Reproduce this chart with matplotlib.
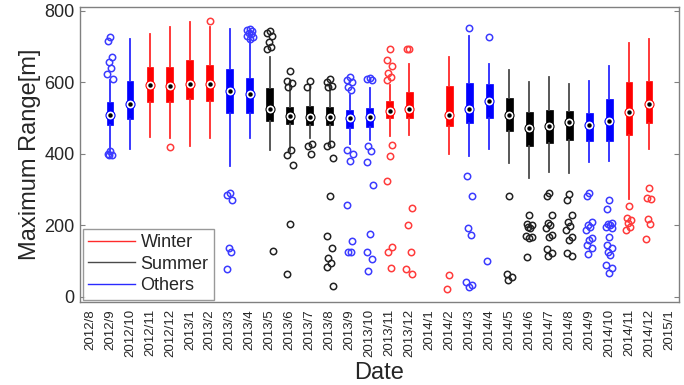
import matplotlib
matplotlib.use("Agg")
import matplotlib.pyplot as plt
from matplotlib.lines import Line2D

plt.rcParams['font.family'] = ['Liberation Sans', 'DejaVu Sans']

months = ["2012/8", "2012/9", "2012/10", "2012/11", "2012/12",
          "2013/1", "2013/2", "2013/3", "2013/4", "2013/5", "2013/6",
          "2013/7", "2013/8", "2013/9", "2013/10", "2013/11", "2013/12",
          "2014/1", "2014/2", "2014/3", "2014/4", "2014/5", "2014/6",
          "2014/7", "2014/8", "2014/9", "2014/10", "2014/11", "2014/12",
          "2015/1"]

# season group per month (None = no data)
season = [None, "O", "O", "W", "W", "W", "W", "O", "O", "S", "S",
          "S", "S", "O", "O", "W", "W", None, "W", "O", "O", "S", "S",
          "S", "S", "O", "O", "W", "W", None]

median = [None, 508, 538, 591, 588, 594, 594, 575, 566, 525, 505,
          503, 503, 499, 502, 520, 524, None, 508, 524, 546, 508, 473,
          477, 488, 480, 490, 516, 538, None]
q1 = [None, 480, 496, 545, 545, 552, 548, 515, 515, 492, 483,
      480, 480, 471, 474, 499, 501, None, 476, 485, 501, 464, 422,
      431, 438, 435, 436, 452, 485, None]
q3 = [None, 544, 603, 643, 643, 662, 648, 637, 611, 583, 531,
      533, 531, 522, 527, 548, 572, None, 590, 597, 594, 555, 516,
      522, 520, 513, 552, 600, 603, None]
whisker_lo = [None, 405, 413, 446, 445, 421, 443, 364, 443, 410, 408,
              443, 429, 426, 438, 448, 452, None, 399, 394, 413, 375, 331,
              348, 345, 376, 380, 272, 413, None]
whisker_hi = [None, 606, 720, 735, 753, 768, 755, 750, 737, 670, 603,
              592, 597, 564, 583, 592, 650, None, 671, 729, 651, 634, 599,
              613, 595, 602, 645, 710, 720, None]
outliers = [
    [],
    [725, 715, 670, 656, 639, 623, 609, 408, 398, 396, 397],
    [],
    [],
    [418],
    [],
    [771],
    [289, 283, 270, 135, 126, 77],
    [750, 746, 742, 738, 734, 730, 726, 722],
    [744, 737, 729, 713, 699, 692, 127],
    [632, 603, 597, 586, 410, 396, 368, 202, 63],
    [603, 587, 427, 420, 399],
    [609, 600, 589, 586, 427, 422, 387, 280, 170, 135, 107, 93, 84, 31],
    [614, 606, 601, 587, 578, 410, 399, 378, 255, 156, 126, 124],
    [611, 608, 606, 422, 406, 376, 312, 175, 124, 105, 72],
    [693, 662, 645, 625, 615, 606, 424, 394, 322, 140, 124, 81],
    [693, 693, 247, 200, 124, 77, 63],
    [],
    [59, 22],
    [751, 338, 282, 192, 171, 42, 33, 26],
    [727, 100],
    [282, 63, 56, 47],
    [229, 203, 200, 195, 193, 170, 168, 165, 112],
    [291, 282, 229, 207, 200, 193, 171, 168, 133, 123, 114],
    [287, 270, 229, 210, 198, 187, 168, 159, 121, 114],
    [289, 280, 210, 200, 196, 187, 163, 159, 143, 135, 119],
    [269, 244, 205, 202, 199, 196, 193, 166, 145, 135, 126, 117, 89, 79, 65],
    [254, 219, 213, 205, 196, 187],
    [303, 277, 272, 217, 203, 161],
    [],
]

legend_names = {"W": "Winter", "S": "Summer", "O": "Others"}
box_colors = {"W": "#ff0000", "S": "#000000", "O": "#0000ff"}
whisker_colors = {"W": "#ff2a2a", "S": "#4a4a4a", "O": "#2a2aff"}
flier_colors = {"W": "#ff3b3b", "S": "#222222", "O": "#3b3bff"}
jitter = [0.0, -0.12, 0.12, -0.06, 0.06, -0.15, 0.15]

fig = plt.figure(figsize=(6.84, 3.85), dpi=100)
ax = fig.add_axes([0.1170, 0.2148, 0.8757, 0.7678])

positions = list(range(1, len(months) + 1))
for i, pos in enumerate(positions):
    g = season[i]
    if g is None:
        continue
    stats = [dict(med=median[i], q1=q1[i], q3=q3[i], whislo=whisker_lo[i],
                  whishi=whisker_hi[i], fliers=[])]
    ax.bxp(stats, positions=[pos], widths=0.34, showcaps=False,
           showfliers=False, patch_artist=True,
           boxprops=dict(facecolor=box_colors[g], edgecolor=box_colors[g],
                         linewidth=0.5),
           whiskerprops=dict(color=whisker_colors[g], linewidth=1.3),
           medianprops=dict(linewidth=0), manage_ticks=False, zorder=2)
    fl = outliers[i]
    if fl:
        xs = [pos + jitter[k % len(jitter)] for k in range(len(fl))]
        ax.plot(xs, fl, linestyle="none", marker="o", markersize=4.6,
                markerfacecolor="none", markeredgecolor=flier_colors[g],
                markeredgewidth=1.1, zorder=3)
    ax.plot([pos], [median[i]], marker="o", markersize=6.5,
            markerfacecolor="white", markeredgecolor=box_colors[g],
            markeredgewidth=0.8, linestyle="none", zorder=4)
    ax.plot([pos], [median[i]], marker="o", markersize=2.2,
            markerfacecolor="black", markeredgecolor="black",
            linestyle="none", zorder=5)

ax.set_xlim(0.5, 30.5)
ax.set_ylim(-16, 811)
ax.set_yticks([0, 200, 400, 600, 800])
ax.set_xticks(positions)
ax.set_xticklabels(months, rotation=90, fontsize=9.5, color="#262626")
ax.tick_params(axis="x", length=0, pad=5)
ax.tick_params(axis="y", direction="in", length=3.5, right=True,
               labelsize=13, colors="#808080", labelcolor="#262626", pad=4)
for s in ax.spines.values():
    s.set_color("#808080")
    s.set_linewidth(1.0)

ax.set_xlabel("Date", fontsize=17, color="#262626", labelpad=3)
ax.set_ylabel("Maximum Range[m]", fontsize=17, color="#262626", labelpad=2)

handles = [Line2D([0], [0], color=whisker_colors[k], linewidth=1.0)
           for k in ["W", "S", "O"]]
leg = ax.legend(handles, [legend_names[k] for k in ["W", "S", "O"]],
                loc="lower left", fontsize=13, frameon=True, fancybox=False,
                edgecolor="#808080", handlelength=2.6, handletextpad=0.3,
                borderaxespad=0.15, labelspacing=0.25, borderpad=0.3)
leg.get_frame().set_linewidth(1.0)
for t in leg.get_texts():
    t.set_color("#262626")

fig.savefig("out.png", dpi=100)
